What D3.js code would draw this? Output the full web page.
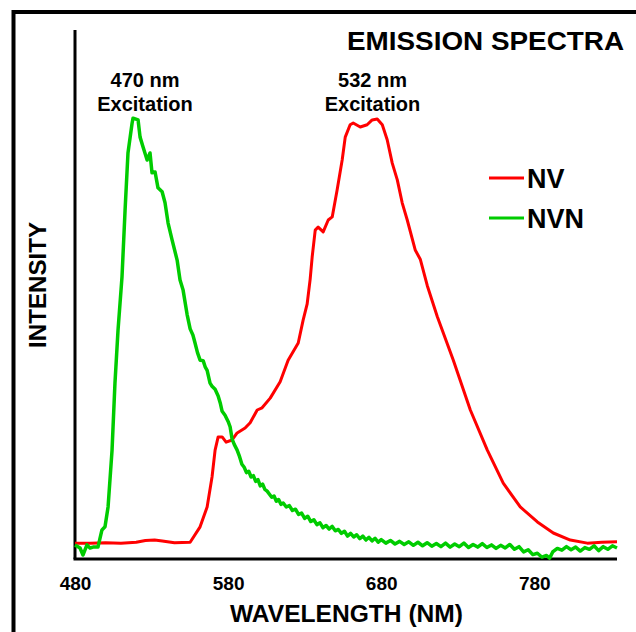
<!DOCTYPE html>
<html>
<head>
<meta charset="utf-8">
<script src="https://cdn.jsdelivr.net/npm/d3@7"></script>
<style>
  html, body { margin: 0; padding: 0; background: #fff; }
  svg { display: block; }
  text { font-family: "Liberation Sans", Arial, Helvetica, sans-serif; font-weight: bold; fill: #000; }
</style>
</head>
<body>
<svg id="chart" width="636" height="632"></svg>
<script>
// ---- data ----
const xTicks = [480, 580, 680, 780];
const seriesNames = ["NV", "NVN"];
const seriesColors = ["#ff0000", "#00cc00"];

// NV emission (wavelength nm, relative intensity)
const nvWavelength = [480, 490, 500, 510, 520, 526, 532, 537, 545, 555.2, 561.7, 566.3, 569.5, 571.5, 573.5, 576.1, 578.7, 582.6, 585.9, 591.1, 594.4, 599.0, 602.2, 607.5, 614.0, 619.2, 625.8, 629.0, 631.6, 633.6, 634.9, 636.9, 638.8, 642.1, 645.4, 648.0, 651.2, 654.5, 656.5, 659.7, 661.7, 666.3, 670.8, 674.1, 677.4, 680.7, 683.9, 687.2, 690.5, 693.7, 697.0, 702.2, 705.5, 710.1, 716.6, 727.1, 738.2, 749.3, 759.7, 770.8, 782.0, 792.4, 803.5, 814.6, 824, 834];
const nvIntensity  = [0.036, 0.036, 0.037, 0.036, 0.038, 0.042, 0.043, 0.041, 0.037, 0.038, 0.073, 0.118, 0.186, 0.247, 0.277, 0.277, 0.265, 0.270, 0.286, 0.297, 0.309, 0.338, 0.343, 0.365, 0.402, 0.451, 0.490, 0.542, 0.578, 0.635, 0.685, 0.746, 0.753, 0.742, 0.769, 0.776, 0.837, 0.905, 0.957, 0.985, 0.989, 0.980, 0.985, 0.996, 0.998, 0.985, 0.951, 0.898, 0.860, 0.808, 0.769, 0.701, 0.680, 0.620, 0.550, 0.451, 0.338, 0.247, 0.172, 0.118, 0.084, 0.059, 0.043, 0.036, 0.038, 0.039];

// NVN emission (wavelength nm, relative intensity)
const nvnWavelength = [480, 483.3, 485.2, 487.8, 489.8, 491.8, 495.0, 497.6, 499.6, 501.6, 504.2, 506.1, 508.1, 510.7, 512.7, 514.6, 517.3, 517.9, 521.2, 522.5, 524.4, 527.1, 529.0, 530.3, 532.3, 534.2, 536.9, 538.8, 540.8, 543.4, 546.7, 548.6, 550.6, 553.2, 555.2, 557.0, 558.4, 560.0, 561.7, 563.7, 565.0, 566.3, 568.2, 569.5, 571.5, 573.5, 575.0, 576.1, 578.0, 580.0, 581.3, 582.6, 584.0, 585.9, 587.5, 589.0, 590.5, 592.0, 593.5, 595.0, 596.5, 598.0, 599.5, 601.0, 602.5, 604.0, 605.5, 607.0, 608.5, 610.0, 611.5, 613.0, 614.5, 616.0, 618.0, 620.0, 622.0, 624.0, 626.0, 628.0, 630.0, 632.0, 634.0, 636.0, 638.0, 640.0, 642.0, 644.0, 646.0, 648.0, 650.0, 652.0, 654.0, 656.0, 658.0, 660.0, 662.0, 664.0, 666.0, 668.0, 670.0, 672.0, 674.0, 676.0, 678.0, 680.0, 683.0, 686.0, 689.0, 692.0, 695.0, 698.0, 701.0, 704.0, 707.0, 710.0, 713.0, 716.0, 719.0, 722.0, 725.0, 728.0, 731.0, 734.0, 737.0, 740.0, 743.0, 746.0, 749.0, 752.0, 755.0, 758.0, 761.0, 764.0, 767.0, 770.0, 773.0, 776.0, 779.0, 782.0, 785.0, 788.0, 790.0, 792.0, 795.0, 798.0, 801.0, 804.0, 807.0, 810.0, 813.0, 816.0, 819.0, 822.0, 825.0, 828.0, 831.0, 834.0];
const nvnIntensity  = [0.032, 0.025, 0.009, 0.032, 0.025, 0.027, 0.027, 0.066, 0.073, 0.118, 0.247, 0.399, 0.519, 0.640, 0.791, 0.921, 0.989, 1.000, 0.996, 0.957, 0.935, 0.905, 0.921, 0.876, 0.878, 0.842, 0.833, 0.808, 0.762, 0.724, 0.678, 0.633, 0.610, 0.555, 0.522, 0.508, 0.490, 0.468, 0.451, 0.450, 0.436, 0.428, 0.399, 0.392, 0.385, 0.370, 0.352, 0.335, 0.326, 0.312, 0.300, 0.272, 0.260, 0.247, 0.232, 0.215, 0.208, 0.196, 0.199, 0.186, 0.189, 0.176, 0.180, 0.166, 0.170, 0.158, 0.154, 0.147, 0.140, 0.143, 0.131, 0.135, 0.124, 0.127, 0.118, 0.121, 0.110, 0.113, 0.101, 0.104, 0.092, 0.097, 0.085, 0.089, 0.078, 0.082, 0.071, 0.076, 0.068, 0.074, 0.064, 0.067, 0.058, 0.063, 0.052, 0.058, 0.050, 0.055, 0.046, 0.052, 0.043, 0.049, 0.041, 0.047, 0.038, 0.044, 0.036, 0.042, 0.034, 0.040, 0.033, 0.039, 0.031, 0.038, 0.030, 0.037, 0.029, 0.035, 0.028, 0.036, 0.027, 0.034, 0.028, 0.036, 0.026, 0.033, 0.027, 0.035, 0.026, 0.032, 0.024, 0.031, 0.025, 0.033, 0.022, 0.028, 0.016, 0.021, 0.010, 0.013, 0.004, 0.008, 0.002, 0.016, 0.024, 0.020, 0.028, 0.021, 0.027, 0.018, 0.026, 0.022, 0.030, 0.019, 0.028, 0.022, 0.030, 0.025];

// ---- drawing ----
const svg = d3.select("#chart");
const x = d3.scaleLinear().domain([480, 834]).range([75, 617]);
const y = d3.scaleLinear().domain([0, 1.2]).range([559, 30]);

// outer frame (cropped at right/bottom)
svg.append("path")
  .attr("d", "M13.5,632 L13.5,12 L636,12")
  .attr("fill", "none").attr("stroke", "#000").attr("stroke-width", 4);

// axes
const xAxis = d3.axisBottom(x).tickValues(xTicks).tickSize(0).tickPadding(18).tickFormat(d3.format("d"));
const gx = svg.append("g").attr("transform", `translate(0,${y(0)})`).call(xAxis);
gx.select(".domain").attr("stroke", "#000").attr("stroke-width", 3).attr("d", `M${x(480) - 1.5},0H${x(834)}`);
gx.selectAll(".tick text").attr("font-size", 19).attr("font-family", "Liberation Sans, Arial, sans-serif").attr("font-weight", "bold").attr("fill", "#000");

const yAxis = d3.axisLeft(y).tickValues([]).tickSize(0);
const gy = svg.append("g").attr("transform", `translate(${x(480)},0)`).call(yAxis);
gy.select(".domain").attr("stroke", "#000").attr("stroke-width", 3).attr("d", `M0,${y(1.2)}V${y(0)}`);

// lines
const line = d3.line().x(d => x(d[0])).y(d => y(d[1])).curve(d3.curveLinear);
const nvData = nvWavelength.map((w, i) => [w, nvIntensity[i]]);
const nvnData = nvnWavelength.map((w, i) => [w, nvnIntensity[i]]);

svg.append("path").datum(nvData).attr("d", line)
  .attr("fill", "none").attr("stroke", seriesColors[0]).attr("stroke-width", 3).attr("stroke-linejoin", "round");
svg.append("path").datum(nvnData).attr("d", line)
  .attr("fill", "none").attr("stroke", seriesColors[1]).attr("stroke-width", 3.5).attr("stroke-linejoin", "round");

// axis titles
svg.append("text").attr("x", 346.5).attr("y", 622).attr("text-anchor", "middle").attr("font-size", 24)
  .attr("textLength", 233).attr("lengthAdjust", "spacingAndGlyphs").text("WAVELENGTH (NM)");
svg.append("text").attr("transform", "translate(46,285) rotate(-90)").attr("text-anchor", "middle").attr("font-size", 24)
  .attr("textLength", 126).attr("lengthAdjust", "spacingAndGlyphs").text("INTENSITY");

// title
svg.append("text").attr("x", 624).attr("y", 50).attr("text-anchor", "end").attr("font-size", 26)
  .attr("textLength", 277).attr("lengthAdjust", "spacingAndGlyphs").text("EMISSION SPECTRA");

// annotations
const ann = [["470 nm", "Excitation", 145], ["532 nm", "Excitation", 372.5]];
ann.forEach(a => {
  svg.append("text").attr("text-anchor", "middle").attr("font-size", 20)
    .attr("x", a[2]).attr("y", 87).text(a[0]);
  svg.append("text").attr("text-anchor", "middle").attr("font-size", 20)
    .attr("x", a[2]).attr("y", 111).text(a[1]);
});

// legend
const legend = svg.append("g");
seriesNames.forEach((n, i) => {
  const ly = 178 + i * 40;
  legend.append("line").attr("x1", 489).attr("x2", 524).attr("y1", ly).attr("y2", ly)
    .attr("stroke", seriesColors[i]).attr("stroke-width", 3);
  legend.append("text").attr("x", 527).attr("y", ly + 9.5).attr("font-size", 27).text(n);
});
</script>
</body>
</html>
